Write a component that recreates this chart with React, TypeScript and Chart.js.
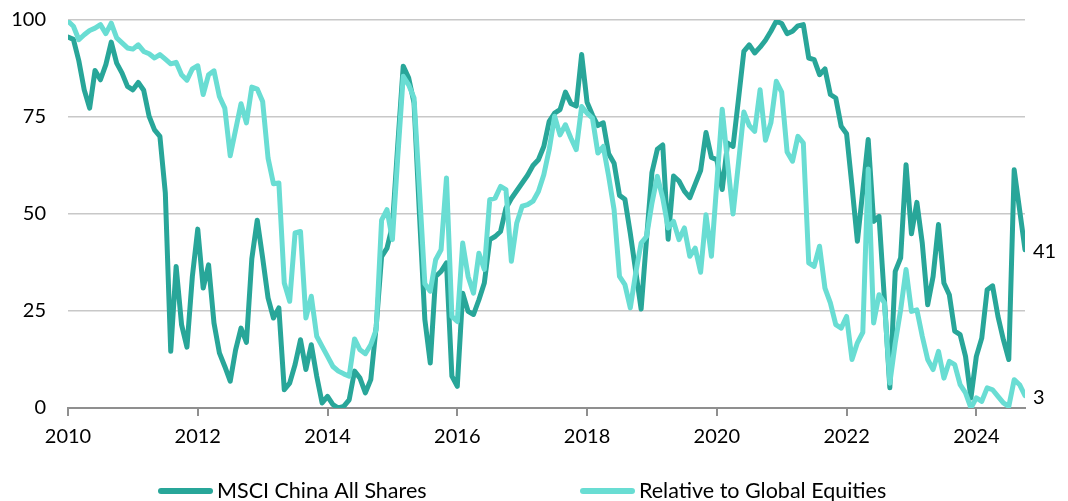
import React, { useEffect, useRef } from 'react';
import { Chart, registerables } from 'chart.js';

Chart.register(...registerables);

// ---- Data (monthly, Jan 2010 .. Oct 2024) ----
const startYear = 2010;
const tickYears = [2010, 2012, 2014, 2016, 2018, 2020, 2022, 2024];
const yTicks = [0, 25, 50, 75, 100];
const seriesLabels = ['MSCI China All Shares', 'Relative to Global Equities'];

const msciChinaAllShares = [
  95.6, 95, 89.5, 82, 77.3, 87, 84.6, 88.5, 94.3, 88.9, 86.3, 82.9,
  82, 83.9, 81.9, 75.2, 71.7, 70, 55.4, 14.6, 36.5, 21.5, 15.7, 33.9,
  46.1, 30.9, 36.9, 21.9, 14.2, 10.7, 6.9, 15, 20.6, 16.9, 38.5, 48.4,
  38.7, 28.4, 23.2, 25.8, 4.7, 6.4, 11.2, 17.6, 9.9, 16.3, 8.2, 1.3,
  3, 0.9, 0, 0.4, 2.1, 9.5, 7.7, 3.9, 7.3, 21, 39, 41.2,
  47, 68, 88.1, 85.1, 78.6, 50, 22.8, 11.6, 33.9, 35.2, 37.4, 8.2,
  5.6, 29.6, 24.9, 24.1, 27.9, 32.2, 43.4, 44.2, 45.5, 51.5, 54, 56,
  58, 60, 62.5, 64, 67.4, 73.9, 76, 76.9, 81.4, 78.5, 77.8, 91.1,
  78.8, 75.5, 72.8, 73.5, 65.5, 63.1, 54.8, 53.8, 45, 35.3, 25.5, 43.5,
  60.7, 66.7, 67.8, 43.5, 59.8, 58.5, 55.9, 54.2, 57.7, 61.2, 71, 64.6,
  64, 56.3, 68.3, 67.4, 79.5, 91.9, 93.6, 91.5, 93, 94.8, 97.1, 99.7,
  99.1, 96.5, 97.1, 98.5, 98.8, 90.2, 89.8, 85.9, 87.4, 80.8, 79.9, 72.6,
  70.7, 57.2, 43, 56, 69.2, 48.1, 49.4, 28, 5.2, 35.2, 38.7, 62.7,
  44.9, 53, 42.5, 26.6, 33.9, 47.3, 32.2, 29.2, 19.8, 18.9, 13.3, 2.6,
  13.3, 18, 30.5, 31.5, 23.6, 17.6, 12.5, 61.4, 51.1, 40.8,
];

const relativeToGlobalEquities = [
  99.7, 98.4, 94.9, 96.2, 97.3, 97.9, 98.8, 96.5, 99.2, 95.4, 94.1, 92.8,
  92.5, 93.6, 91.9, 91.3, 90.2, 91.1, 89.9, 88.7, 89.1, 85.9, 84.5, 87.4,
  88.2, 80.8, 85.9, 86.9, 80.3, 77.3, 65, 71.7, 78.4, 73.5, 82.7, 82.2,
  79, 64.4, 57.8, 58, 32.2, 27.5, 45.1, 45.5, 23.2, 28.8, 18.5, 15.9,
  13.3, 10.7, 9.5, 8.8, 8.2, 17.8, 15, 14, 16.3, 20.2, 48.4, 51.1,
  43.4, 64.9, 85.5, 83.3, 79.9, 56.3, 32, 30.1, 38.2, 40.8, 59.3, 23.6,
  22.3, 42.5, 33.9, 29.6, 39.9, 35.7, 53.7, 54.1, 57.1, 56.3, 37.8, 47.7,
  52, 52.4, 53.3, 55.8, 60.1, 66.6, 75.2, 70.4, 73, 69.6, 66.6, 77.7,
  76, 74.7, 65.7, 67.4, 59.7, 51.1, 33.9, 31.8, 25.8, 34.8, 42.5, 44.2,
  52.8, 59.7, 54.1, 46.4, 48.1, 43.4, 46.4, 39.1, 41.2, 35, 49.8, 39.1,
  58, 77, 63, 50, 63, 76.3, 72.8, 71.3, 82, 69, 73.5, 84.2,
  81.4, 66, 63.6, 70, 68.3, 37.4, 36.5, 41.7, 30.9, 27.1, 21.5, 20.6,
  23.6, 12.5, 16.8, 19.5, 61.6, 21.9, 29.2, 27.1, 6.4, 16.8, 25.3, 35.7,
  24.9, 25.3, 18.5, 12.5, 9.9, 14.6, 7.7, 12, 11.2, 6, 3.9, 0,
  2.6, 1.7, 5.2, 4.7, 3, 1.3, 0.4, 7.3, 6, 3.2,
];

const DARK = '#28A699';
const LIGHT = '#69DDD3';
const FONT = 'Lato';

const toPoints = (arr: number[]) => arr.map((v, i) => ({ x: i, y: v }));

const endLabelPlugin = {
  id: 'endLabels',
  afterDatasetsDraw(chart: any) {
    const ctx = chart.ctx;
    ctx.save();
    ctx.font = `20px ${FONT}`;
    ctx.fillStyle = '#000';
    ctx.textAlign = 'left';
    ctx.textBaseline = 'middle';
    chart.data.datasets.forEach((ds: any, i: number) => {
      const meta = chart.getDatasetMeta(i);
      const pt = meta.data[meta.data.length - 1];
      const v = ds.data[ds.data.length - 1].y;
      ctx.fillText(String(Math.round(v)), pt.x + 8, pt.y + 2);
    });
    ctx.restore();
  },
};

const legendItemX = [158, 580];

const legendPlugin = {
  id: 'bottomLegend',
  afterDraw(chart: any) {
    const ctx = chart.ctx;
    ctx.save();
    ctx.font = `21.5px ${FONT}`;
    ctx.textAlign = 'left';
    ctx.textBaseline = 'alphabetic';
    const yLine = 491;
    const yText = 498;
    chart.data.datasets.forEach((ds: any, i: number) => {
      const x = legendItemX[i];
      ctx.strokeStyle = ds.borderColor;
      ctx.lineWidth = 6;
      ctx.lineCap = 'round';
      ctx.beginPath();
      ctx.moveTo(x + 3, yLine);
      ctx.lineTo(x + 52, yLine);
      ctx.stroke();
      ctx.fillStyle = '#000';
      ctx.fillText(ds.label, x + 59, yText);
    });
    ctx.restore();
  },
};

export default function App() {
  const canvasRef = useRef<HTMLCanvasElement | null>(null);

  useEffect(() => {
    let chart: Chart | null = null;
    let cancelled = false;
    const build = () => {
      if (cancelled || !canvasRef.current) return;
      Chart.defaults.font.family = FONT;
      chart = new Chart(canvasRef.current, {
        type: 'line',
        data: {
          datasets: [
            {
              label: seriesLabels[0],
              data: toPoints(msciChinaAllShares),
              borderColor: DARK,
              backgroundColor: DARK,
              borderWidth: 5,
              pointRadius: 0,
              tension: 0,
              borderJoinStyle: 'round',
              borderCapStyle: 'round',
              order: 2,
            },
            {
              label: seriesLabels[1],
              data: toPoints(relativeToGlobalEquities),
              borderColor: LIGHT,
              backgroundColor: LIGHT,
              borderWidth: 5,
              pointRadius: 0,
              tension: 0,
              borderJoinStyle: 'round',
              borderCapStyle: 'round',
              order: 1,
            },
          ],
        },
        options: {
          responsive: false,
          animation: false,
          layout: { padding: { left: 0, right: 43, top: 20, bottom: 33 } },
          plugins: {
            legend: { display: false },
            tooltip: { enabled: false },
          },
          scales: {
            x: {
              type: 'linear',
              min: 0,
              max: msciChinaAllShares.length - 1,
              afterBuildTicks: (scale: any) => {
                scale.ticks = tickYears.map((y) => ({ value: (y - startYear) * 12 }));
              },
              afterFit: (scale: any) => {
                scale.height = 60;
              },
              grid: {
                drawOnChartArea: false,
                drawTicks: true,
                tickLength: 8,
                color: '#8f8f8f',
                lineWidth: 2,
              },
              border: { display: true, color: '#8f8f8f', width: 2 },
              ticks: {
                autoSkip: false,
                maxRotation: 0,
                padding: 9,
                color: '#000',
                font: { family: FONT, size: 20 },
                callback: (v: any) => String(startYear + Math.round(Number(v) / 12)),
              },
            },
            y: {
              min: 0,
              max: 100,
              afterBuildTicks: (scale: any) => {
                scale.ticks = yTicks.map((v) => ({ value: v }));
              },
              afterFit: (scale: any) => {
                scale.width = 68;
              },
              grid: {
                drawTicks: true,
                tickLength: 22,
                tickColor: 'rgba(0,0,0,0)',
                color: '#c8c8c8',
                lineWidth: 1.5,
              },
              border: { display: false },
              ticks: {
                padding: 0,
                color: '#000',
                font: { family: FONT, size: 20 },
              },
            },
          },
        },
        plugins: [endLabelPlugin, legendPlugin],
      } as any);
    };
    const fontsReady = (document as any).fonts && (document as any).fonts.load
      ? (document as any).fonts.load(`20px ${FONT}`).catch(() => null)
      : Promise.resolve();
    fontsReady.then(build);
    return () => {
      cancelled = true;
      if (chart) chart.destroy();
    };
  }, []);

  return (
    <div style={{ position: 'absolute', left: 0, top: 0, width: 1068, height: 501, overflow: 'hidden', background: '#fff' }}>
      <canvas ref={canvasRef} width={1068} height={501} style={{ display: 'block' }} />
    </div>
  );
}
